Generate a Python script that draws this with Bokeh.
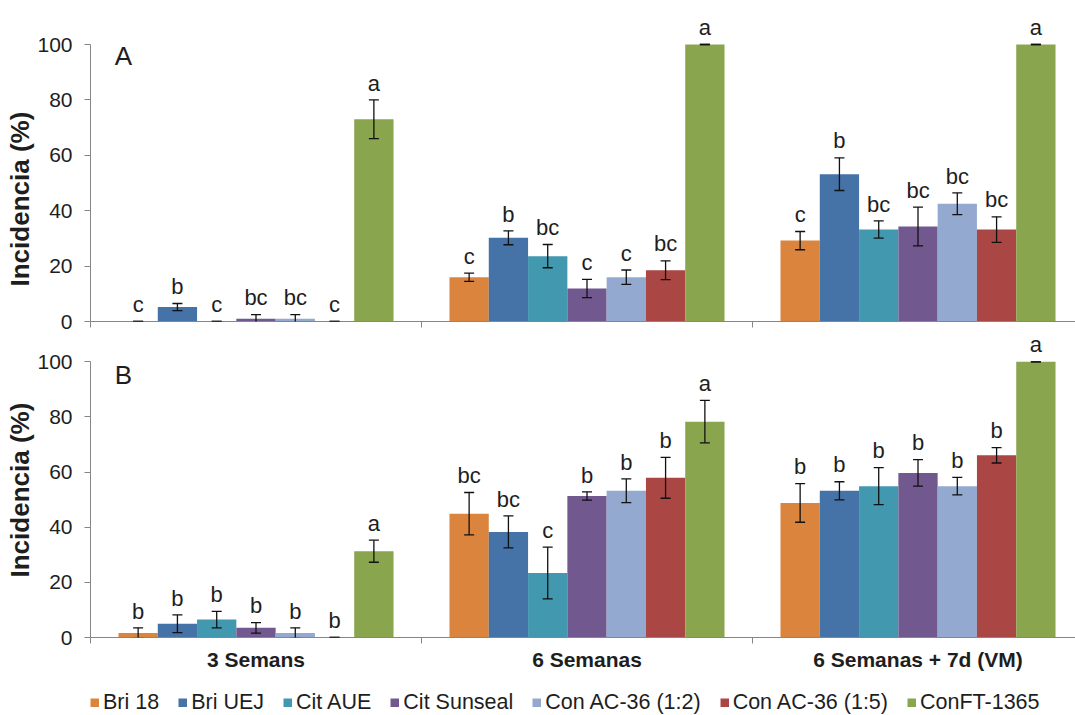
from bokeh.core.properties import value
from bokeh.embed import file_html
from bokeh.layouts import column
from bokeh.models import (ColumnDataSource, FixedTicker, Label, Legend,
                          LegendItem, LinearAxis, Range1d, TeeHead, Title,
                          Whisker)
from bokeh.plotting import figure
from bokeh.resources import INLINE

# ---------------------------------------------------------------- data
groups = ["3 Semans", "6 Semanas", "6 Semanas + 7d (VM)"]
treatments = ["Bri 18", "Bri UEJ", "Cit AUE", "Cit Sunseal",
              "Con AC-36 (1:2)", "Con AC-36 (1:5)", "ConFT-1365"]
colors = ["#DB843D", "#4572A7", "#4198AF", "#71588F",
          "#93A9CF", "#AA4643", "#89A54E"]
y_ticks = [0, 20, 40, 60, 80, 100]

# Panel A: mean incidence (%), standard error and letter groups per treatment
a_mean_3s = [0.0, 5.2, 0.0, 1.0, 1.0, 0.0, 73.0]
a_err_3s = [0.0, 1.3, 0.0, 1.5, 1.5, 0.0, 7.0]
a_let_3s = ["c", "b", "c", "bc", "bc", "c", "a"]

a_mean_6s = [16.0, 30.2, 23.6, 11.9, 16.0, 18.5, 100.0]
a_err_6s = [1.5, 2.5, 4.2, 3.3, 2.6, 3.4, 0.0]
a_let_6s = ["c", "b", "bc", "c", "c", "bc", "a"]

a_mean_6s7d = [29.2, 53.2, 33.2, 34.3, 42.5, 33.2, 100.0]
a_err_6s7d = [3.3, 5.9, 3.1, 7.0, 3.9, 4.6, 0.0]
a_let_6s7d = ["c", "b", "bc", "bc", "bc", "bc", "a"]

# Panel B
b_mean_3s = [1.6, 5.0, 6.5, 3.5, 1.6, 0.0, 31.3]
b_err_3s = [1.9, 3.2, 3.0, 1.9, 1.9, 0.0, 4.0]
b_let_3s = ["b", "b", "b", "b", "b", "b", "a"]

b_mean_6s = [44.9, 38.3, 23.4, 51.3, 53.2, 57.9, 78.3]
b_err_6s = [7.7, 5.8, 9.4, 1.5, 4.3, 7.4, 7.7]
b_let_6s = ["bc", "bc", "c", "b", "b", "b", "a"]

b_mean_6s7d = [48.8, 53.2, 54.9, 59.7, 54.9, 66.1, 100.0]
b_err_6s7d = [7.0, 3.3, 6.7, 4.8, 3.2, 2.8, 0.0]
b_let_6s7d = ["b", "b", "b", "b", "b", "b", "a"]

# ---------------------------------------------------------------- styling
FONT = "Liberation Sans"
AXIS_GREY = "#868686"
TEXT = "#1e1e1e"
BAR_STEP = 0.1187          # bar width, in group units
X_END = 2.9758             # visible part of the third group
LETTER_GAP = 6.1           # whisker top to letter centre (y units)
W = 1075


def make_panel(means, errs, letters, height, y_top, border_bottom,
               panel_letter, letter_y, title_offset):
    p = figure(width=W, height=height, output_backend="svg",
               toolbar_location=None,
               x_range=Range1d(0, X_END), y_range=Range1d(0, y_top),
               min_border_left=90, min_border_right=0,
               min_border_top=0, min_border_bottom=border_bottom)
    p.outline_line_color = None
    p.xgrid.visible = False
    p.ygrid.visible = False

    renderers = []
    for i, name in enumerate(treatments):
        xs = [g + 0.5 + (i - 3) * BAR_STEP for g in range(len(groups))]
        tops = [m[i] for m in means]
        er = [e[i] for e in errs]
        upper = [t + e for t, e in zip(tops, er)]
        src = ColumnDataSource(dict(
            x=xs, top=tops, upper=upper,
            lower=[t - e for t, e in zip(tops, er)],
            letter=[l[i] for l in letters],
            letter_y=[u + LETTER_GAP for u in upper],
        ))
        r = p.vbar(x="x", top="top", bottom=0, width=BAR_STEP, source=src,
                   fill_color=colors[i], line_color=None)
        renderers.append(r)
        p.add_layout(Whisker(
            base="x", upper="upper", lower="lower", source=src,
            level="overlay", line_color="#111111", line_width=1.3,
            upper_head=TeeHead(size=10, line_color="#111111", line_width=1.3),
            lower_head=TeeHead(size=10, line_color="#111111", line_width=1.3)))
        p.text(x="x", y="letter_y", text="letter", source=src,
               text_font=value(FONT), text_font_size="22px",
               text_align="center", text_baseline="middle",
               text_color=TEXT)

    # y axis
    ya = p.yaxis[0]
    ya.ticker = FixedTicker(ticks=y_ticks)
    ya.bounds = (0, 100)
    ya.axis_line_color = AXIS_GREY
    ya.major_tick_line_color = AXIS_GREY
    ya.major_tick_out = 6
    ya.major_tick_in = 0
    ya.minor_tick_line_color = None
    ya.major_label_standoff = 12
    ya.major_label_text_font = FONT
    ya.major_label_text_font_size = "21px"
    ya.major_label_text_color = TEXT

    # x axis: only the group boundary ticks
    xa = p.xaxis[0]
    xa.ticker = FixedTicker(ticks=[0, 1, 2, 3])
    xa.axis_line_color = AXIS_GREY
    xa.major_tick_line_color = AXIS_GREY
    xa.major_tick_out = 6
    xa.major_tick_in = 0
    xa.minor_tick_line_color = None
    xa.major_label_standoff = 0
    xa.major_label_overrides = {0: "", 1: "", 2: "", 3: ""}

    p.add_layout(Label(x=0.0997, y=letter_y, text=panel_letter,
                       text_font=FONT, text_font_size="26px",
                       text_align="center", text_baseline="middle",
                       text_color=TEXT))
    p.add_layout(Title(text="Incidencia (%)", align="left",
                       offset=title_offset, standoff=0,
                       text_font=FONT, text_font_size="26px",
                       text_font_style="bold", text_color=TEXT), "left")
    return p, renderers


top, _ = make_panel(
    [a_mean_3s, a_mean_6s, a_mean_6s7d],
    [a_err_3s, a_err_6s, a_err_6s7d],
    [a_let_3s, a_let_6s, a_let_6s7d],
    height=331, y_top=321 / 2.77, border_bottom=10,
    panel_letter="A", letter_y=95.7, title_offset=35)

bottom, _ = make_panel(
    [b_mean_3s, b_mean_6s, b_mean_6s7d],
    [b_err_3s, b_err_6s, b_err_6s7d],
    [b_let_3s, b_let_6s, b_let_6s7d],
    height=351, y_top=306 / 2.757, border_bottom=45,
    panel_letter="B", letter_y=95.3, title_offset=60)

# sampling-time labels under the lower panel
group_axis = LinearAxis(
    ticker=FixedTicker(ticks=[0.5, 1.5, 2.5]),
    major_label_overrides={0.5: groups[0], 1.5: groups[1], 2.5: groups[2]},
    axis_line_color=None, major_tick_line_color=None,
    major_tick_out=0, major_tick_in=0, minor_tick_line_color=None,
    major_label_standoff=4,
    major_label_text_font=FONT, major_label_text_font_size="21px",
    major_label_text_font_style="bold", major_label_text_color=TEXT)
bottom.add_layout(group_axis, "below")

# legend strip: thick butt-capped line swatches give square keys;
# their single segment lies outside the visible range
key = figure(width=W, height=33, output_backend="svg", toolbar_location=None,
             x_range=Range1d(0, 1), y_range=Range1d(0, 1),
             x_axis_location=None, y_axis_location=None,
             min_border_left=0, min_border_right=0,
             min_border_top=0, min_border_bottom=0)
key.outline_line_color = None
key.xgrid.visible = False
key.ygrid.visible = False
swatches = [key.line(x=[-5, -4], y=[-5, -5], line_width=9, line_color=c,
                     line_cap="butt")
            for c in colors]
legend = Legend(
    items=[LegendItem(label=t, renderers=[r])
           for t, r in zip(treatments, swatches)],
    orientation="horizontal", location=(0, 0),
    glyph_width=9, glyph_height=9, label_standoff=4, spacing=19,
    padding=0, margin=0, border_line_color=None, background_fill_alpha=0,
    label_text_font=FONT, label_text_font_size="21.5px",
    label_text_color=TEXT)
key.add_layout(legend)

layout = column(top, bottom, key, spacing=0)

with open("out.html", "w") as f:
    f.write(file_html(layout, INLINE))
